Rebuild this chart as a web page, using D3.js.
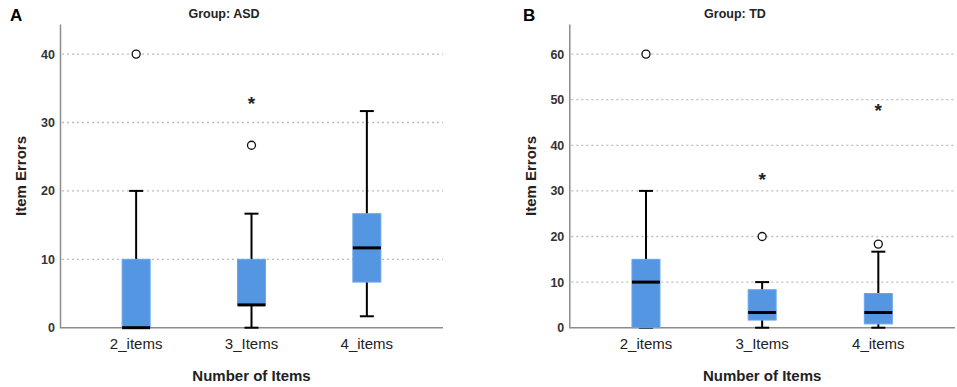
<!DOCTYPE html>
<html>
<head>
<meta charset="utf-8">
<script src="https://cdn.jsdelivr.net/npm/d3@7"></script>
<style>
  body { margin: 0; background: #fff; }
  svg { display: block; font-family: Arial, "Liberation Sans", sans-serif; }
</style>
</head>
<body>
<div id="chart"></div>
<script>
// categories shared by both panels
const categories = ["2_items", "3_Items", "4_items"];

// Group ASD (panel A)
const asdLow    = [0, 0, 1.67];
const asdQ1     = [0, 3.33, 6.67];
const asdMedian = [0, 3.33, 11.67];
const asdQ3     = [10, 10, 16.67];
const asdHigh   = [20, 16.67, 31.67];
const asdOutliers = [
    { cat: "2_items", value: 40, type: "circle" },
    { cat: "3_Items", value: 26.67, type: "circle" },
    { cat: "3_Items", value: 33.33, type: "star" }
];
const asdTicks = [0, 10, 20, 30, 40];
const asdMax = 44.4;

// Group TD (panel B)
const tdLow    = [0, 0, 0];
const tdQ1     = [0, 1.67, 0.83];
const tdMedian = [10, 3.33, 3.33];
const tdQ3     = [15, 8.33, 7.5];
const tdHigh   = [30, 10, 16.67];
const tdOutliers = [
    { cat: "2_items", value: 60, type: "circle" },
    { cat: "3_Items", value: 20, type: "circle" },
    { cat: "3_Items", value: 33.33, type: "star" },
    { cat: "4_items", value: 18.33, type: "circle" },
    { cat: "4_items", value: 48.33, type: "star" }
];
const tdTicks = [0, 10, 20, 30, 40, 50, 60];
const tdMax = 66.6;

const W = 957, H = 387;
const svg = d3.select("#chart").append("svg")
    .attr("width", W)
    .attr("height", H);

function drawPanel(opts) {
    const g = svg.append("g");
    const top = 24, bottom = 327.7;

    const x = d3.scalePoint()
        .domain(categories)
        .range([opts.left, opts.right])
        .padding(0.66);

    const y = d3.scaleLinear()
        .domain([0, opts.yMax])
        .range([bottom, top]);

    // dotted grid lines
    g.selectAll(".grid")
        .data(opts.ticks.filter(t => t > 0))
        .enter().append("line")
        .attr("x1", opts.left + 2)
        .attr("x2", opts.right)
        .attr("y1", d => y(d))
        .attr("y2", d => y(d))
        .attr("stroke", "#bdbdbd")
        .attr("stroke-width", 1.3)
        .attr("stroke-dasharray", "2,3");

    // y axis
    const yAxis = d3.axisLeft(y).tickValues(opts.ticks).tickSize(0).tickPadding(5);
    const ya = g.append("g")
        .attr("transform", `translate(${opts.left},0)`)
        .call(yAxis);
    ya.select(".domain").attr("stroke", "#8c8c8c").attr("stroke-width", 1.5);
    ya.selectAll("text")
        .attr("font-size", 12.5)
        .attr("font-weight", 600)
        .attr("fill", "#333");

    // baseline (x axis)
    g.append("line")
        .attr("x1", opts.left)
        .attr("x2", opts.right)
        .attr("y1", y(0))
        .attr("y2", y(0))
        .attr("stroke", "#8c8c8c")
        .attr("stroke-width", 1.5);

    // x labels
    g.selectAll(".xlab")
        .data(categories)
        .enter().append("text")
        .attr("x", d => x(d))
        .attr("y", 349)
        .attr("text-anchor", "middle")
        .attr("font-size", 15)
        .attr("fill", "#222")
        .text(d => d);

    const boxW = 28, capW = 14;
    const rows = categories.map((c, i) => ({
        cat: c, low: opts.low[i], q1: opts.q1[i], med: opts.median[i], q3: opts.q3[i], high: opts.high[i]
    }));

    const box = g.selectAll(".box")
        .data(rows)
        .enter().append("g");

    // whiskers
    box.append("line")
        .attr("x1", d => x(d.cat)).attr("x2", d => x(d.cat))
        .attr("y1", d => y(d.high)).attr("y2", d => y(d.low))
        .attr("stroke", "#000").attr("stroke-width", 2);
    box.append("line")
        .attr("x1", d => x(d.cat) - capW / 2).attr("x2", d => x(d.cat) + capW / 2)
        .attr("y1", d => y(d.high)).attr("y2", d => y(d.high))
        .attr("stroke", "#000").attr("stroke-width", 2);
    box.append("line")
        .attr("x1", d => x(d.cat) - capW / 2).attr("x2", d => x(d.cat) + capW / 2)
        .attr("y1", d => y(d.low)).attr("y2", d => y(d.low))
        .attr("stroke", "#000").attr("stroke-width", 2);

    // boxes
    box.append("rect")
        .attr("x", d => x(d.cat) - boxW / 2)
        .attr("width", boxW)
        .attr("y", d => y(d.q3))
        .attr("height", d => y(d.q1) - y(d.q3))
        .attr("fill", "#5596e3")
        .attr("stroke", "#6aa6ec")
        .attr("stroke-width", 1);

    // medians
    box.append("line")
        .attr("x1", d => x(d.cat) - boxW / 2).attr("x2", d => x(d.cat) + boxW / 2)
        .attr("y1", d => y(d.med)).attr("y2", d => y(d.med))
        .attr("stroke", "#000").attr("stroke-width", 3);

    // outliers
    g.selectAll(".out")
        .data(opts.outliers.filter(d => d.type === "circle"))
        .enter().append("circle")
        .attr("cx", d => x(d.cat))
        .attr("cy", d => y(d.value))
        .attr("r", 4)
        .attr("fill", "#fff")
        .attr("stroke", "#111")
        .attr("stroke-width", 1.3);

    g.selectAll(".ext")
        .data(opts.outliers.filter(d => d.type === "star"))
        .enter().append("text")
        .attr("x", d => x(d.cat))
        .attr("y", d => y(d.value) + 10)
        .attr("text-anchor", "middle")
        .attr("font-size", 19)
        .attr("font-weight", "bold")
        .attr("fill", "#222")
        .text("*");

    // titles
    g.append("text")
        .attr("x", opts.titleX)
        .attr("y", 18)
        .attr("text-anchor", "middle")
        .attr("font-weight", "bold")
        .attr("font-size", 12.5)
        .attr("fill", "#222")
        .text(opts.title);

    g.append("text")
        .attr("x", opts.letterX)
        .attr("y", 21)
        .attr("font-weight", "bold")
        .attr("font-size", 17)
        .attr("fill", "#000")
        .text(opts.letter);

    g.append("text")
        .attr("x", (opts.left + opts.right) / 2)
        .attr("y", 381)
        .attr("text-anchor", "middle")
        .attr("font-weight", "bold")
        .attr("font-size", 15)
        .attr("fill", "#222")
        .text("Number of Items");

    g.append("text")
        .attr("transform", `translate(${opts.yTitleX},176) rotate(-90)`)
        .attr("text-anchor", "middle")
        .attr("font-weight", "bold")
        .attr("font-size", 15)
        .attr("fill", "#222")
        .text("Item Errors");
}

drawPanel({
    left: 60, right: 443, yMax: asdMax, ticks: asdTicks,
    low: asdLow, q1: asdQ1, median: asdMedian, q3: asdQ3, high: asdHigh,
    outliers: asdOutliers,
    title: "Group: ASD", titleX: 224, letter: "A", letterX: 10, yTitleX: 26
});

drawPanel({
    left: 569.3, right: 955, yMax: tdMax, ticks: tdTicks,
    low: tdLow, q1: tdQ1, median: tdMedian, q3: tdQ3, high: tdHigh,
    outliers: tdOutliers,
    title: "Group: TD", titleX: 735, letter: "B", letterX: 523, yTitleX: 536
});
</script>
</body>
</html>
